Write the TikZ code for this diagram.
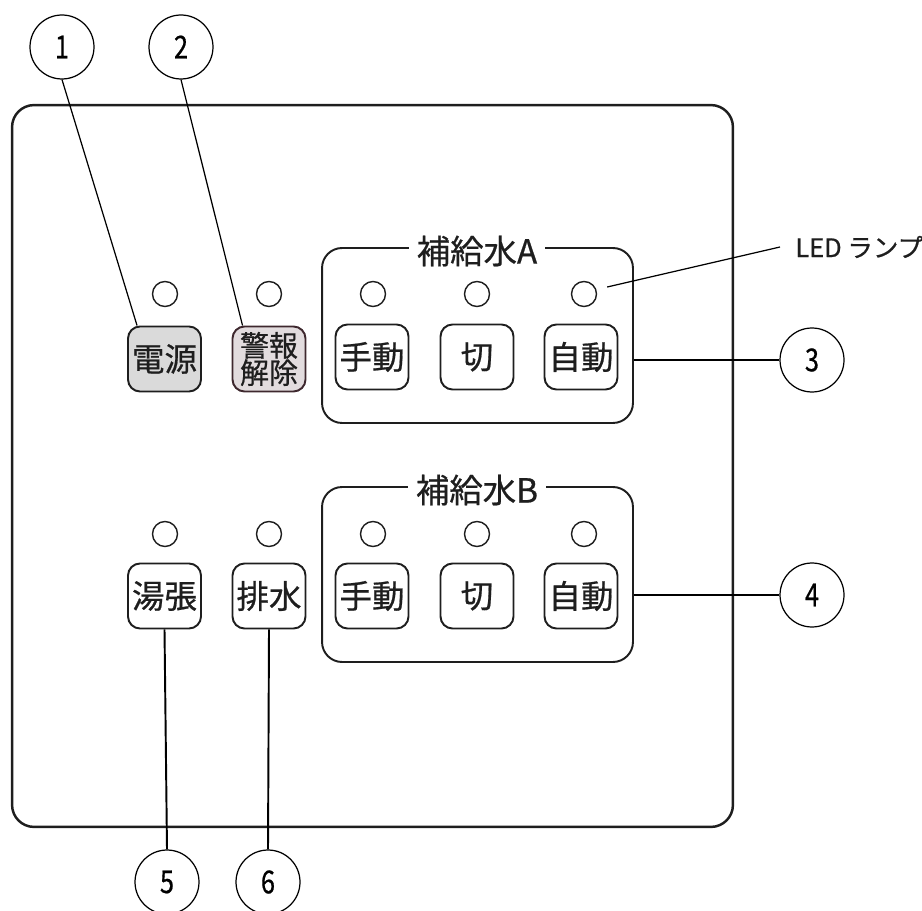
\documentclass[tikz,border=0pt]{standalone}
\usepackage{fontspec}
\newfontfamily\jpfont[FakeBold=0.6]{Noto Sans CJK JP}
\usetikzlibrary{positioning}
\definecolor{keygray}{RGB}{218,218,218}
\definecolor{keypink}{RGB}{226,220,222}
\definecolor{pinkedge}{RGB}{62,40,46}
\definecolor{ink}{RGB}{30,30,30}
\newcommand{\narrow}[1]{\scalebox{0.8}[1.0]{#1}}
\tikzset{
  panel/.style={
    draw = ink,
    line width=1.4pt,
    rounded corners=0.44cm,
    minimum width=14.42cm,
    minimum height=14.44cm
  },
  group/.style={
    draw = ink,
    line width=1.1pt,
    rounded corners=0.4cm,
    minimum width=6.22cm,
    minimum height=3.5cm
  },
  grouptitle/.style={
    fill=white,
    inner xsep=0.16cm,
    inner ysep=0pt,
    text=ink,
    font=\jpfont\fontsize{19}{19}\selectfont
  },
  key/.style={
    draw = ink,
    line width=1.1pt,
    rounded corners=0.24cm,
    minimum width=1.46cm,
    minimum height=1.3cm,
    inner sep=0pt,
    text=ink,
    font=\jpfont\fontsize{18.5}{18.5}\selectfont
  },
  lamp/.style={
    draw = ink,
    shape = circle,
    line width=0.8pt,
    minimum size=0.5cm,
    inner sep=0pt
  },
  badge/.style={
    draw,
    shape = circle,
    line width=0.7pt,
    minimum size=1.28cm,
    inner sep=0pt,
    font=\jpfont\fontsize{18}{18}\selectfont
  },
  lead/.style={line width=0.7pt},
  leadB/.style={line width=1.1pt}
}
\begin{document}
\begin{tikzpicture}[x=0.02cm, y=-0.02cm]
    \useasboundingbox (0,0) rectangle (922,911);
    \node[panel] (panel) at (372.5,466) {};
    % groups
    \node[group] (gA) at (477.5,335.5) {};
    \node[group] (gB) at (477.5,574.5) {};
    \node[grouptitle] (tA) at (477,251) {補給水A};
    \node[grouptitle] (tB) at (477,490) {補給水B};
    % lamps
    \node[lamp] (l1) at (165,294) {};
    \node[lamp] (l2) at (269,294) {};
    \node[lamp] (lA1) at (373,294) {};
    \node[lamp] (lA2) at (477,294) {};
    \node[lamp] (lA3) at (584,294) {};
    \node[lamp] (l5) at (165,534) {};
    \node[lamp] (l6) at (269,534) {};
    \node[lamp] (lB1) at (373,534) {};
    \node[lamp] (lB2) at (477,534) {};
    \node[lamp] (lB3) at (584,534) {};
    % keys
    \node[key, fill=keygray] (kPower) at (164.5,359) {電源};
    \node[key, fill=keypink, draw=pinkedge, align=center,
          font=\jpfont\fontsize{16.5}{15.5}\selectfont] (kAlarm) at (269,359) {警報\\解除};
    \node[key] (kA1) at (372,357) {手動};
    \node[key] (kA2) at (477,357) {切};
    \node[key] (kA3) at (581,357) {自動};
    \node[key] (kFill) at (164.5,596) {湯張};
    \node[key] (kDrain) at (269,596) {排水};
    \node[key] (kB1) at (372,596) {手動};
    \node[key] (kB2) at (477,596) {切};
    \node[key] (kB3) at (581,596) {自動};
    % callouts
    \node[badge] (b1) at (62,47) {\narrow{1}};
    \node[badge] (b2) at (181,47) {\narrow{2}};
    \node[badge] (b3) at (812,360) {\narrow{3}};
    \node[badge] (b4) at (812,595) {\narrow{4}};
    \node[badge] (b5) at (167,882) {\narrow{5}};
    \node[badge] (b6) at (268,882) {\narrow{6}};
    \node[anchor=west, inner xsep=0.3cm, text=ink,
          font=\jpfont\fontsize{14.5}{14.5}\selectfont] (lamptag) at (780,247) {LED ランプ};
    \coordinate (lampend) at ([shift={(0.2cm,0.14cm)}]lA3.east);
    \draw[lead] (b1.south) -- ([xshift=0.2cm]kPower.north west);
    \draw[lead] (b2.south) -- ([xshift=0.22cm]kAlarm.north west);
    \draw[leadB] (gA.east |- b3) -- (b3);
    \draw[leadB] (gB.east |- b4) -- (b4);
    \draw[leadB] (kFill.south) -- (b5.north);
    \draw[leadB] (kDrain.south) -- (b6.north);
    \draw[lead] (lampend) -- (lamptag.west);
\end{tikzpicture}
\end{document}
